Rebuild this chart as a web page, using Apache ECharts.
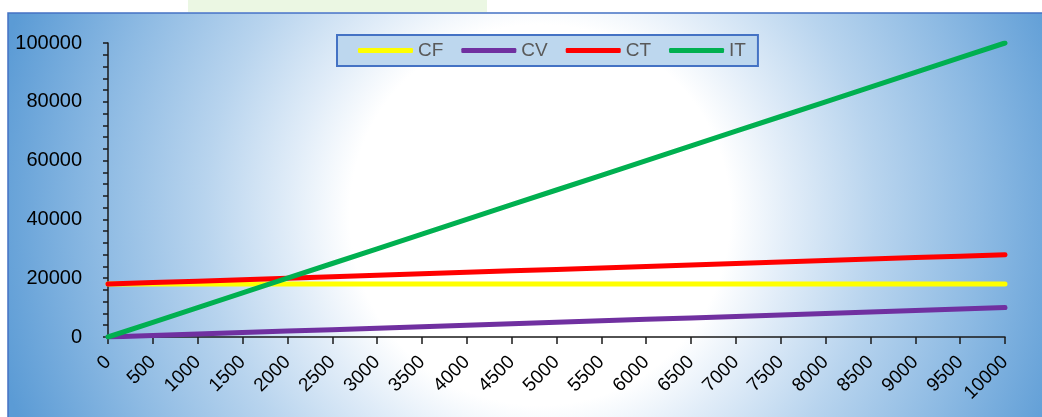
<!DOCTYPE html>
<html>
<head>
<meta charset="utf-8">
<script src="https://cdn.jsdelivr.net/npm/echarts@6/dist/echarts.min.js"></script>
<style>
html,body{margin:0;padding:0;background:#fff;}
#chart{width:1042px;height:417px;}
</style>
</head>
<body>
<div id="chart"></div>
<script>
var categories = ['0','500','1000','1500','2000','2500','3000','3500','4000','4500','5000','5500','6000','6500','7000','7500','8000','8500','9000','9500','10000'];
var cfValues = [18000,18000,18000,18000,18000,18000,18000,18000,18000,18000,18000,18000,18000,18000,18000,18000,18000,18000,18000,18000,18000];
var cvValues = [0,500,1000,1500,2000,2500,3000,3500,4000,4500,5000,5500,6000,6500,7000,7500,8000,8500,9000,9500,10000];
var ctValues = [18000,18500,19000,19500,20000,20500,21000,21500,22000,22500,23000,23500,24000,24500,25000,25500,26000,26500,27000,27500,28000];
var itValues = [0,5000,10000,15000,20000,25000,30000,35000,40000,45000,50000,55000,60000,65000,70000,75000,80000,85000,90000,95000,100000];
var seriesNames = ['CF','CV','CT','IT'];
var seriesColors = ['#ffff00','#7030a0','#ff0000','#00b050'];
var yTicks = {min:0, max:100000, interval:20000};

var chart = echarts.init(document.getElementById('chart'));
var font = '"Liberation Sans", Arial, sans-serif';
var allValues = [cfValues, cvValues, ctValues, itValues];

var option = {
  backgroundColor: '#ffffff',
  animation: false,
  graphic: [
    {type:'rect', z:-10, silent:true, shape:{x:188,y:0,width:299,height:12}, style:{fill:'#ebf7e3'}},
    {type:'rect', z:-10, silent:true, shape:{x:8,y:13,width:1040,height:410},
     style:{
       fill: new echarts.graphic.RadialGradient(540,215,560,[
         {offset:0,color:'#ffffff'},
         {offset:0.34,color:'#ffffff'},
         {offset:0.45,color:'#e0ecf8'},
         {offset:0.6,color:'#b8d4ee'},
         {offset:0.79,color:'#8dbae3'},
         {offset:1,color:'#5b9bd5'}
       ], true),
       stroke:'#4472c4', lineWidth:1.5
     }}
  ],
  legend: {
    data: seriesNames,
    left: 337, top: 35,
    icon: 'roundRect',
    itemWidth: 55, itemHeight: 5, itemGap: 18,
    backgroundColor: '#bdd7ee',
    borderColor: '#4472c4', borderWidth: 2, borderRadius: 0,
    padding: [6,12,6,21],
    textStyle: {color:'#595959', fontSize:19, fontFamily: font}
  },
  grid: {left:108, right:37, top:43, bottom:80, containLabel:false},
  xAxis: {
    type:'category', data: categories, boundaryGap:false,
    axisLine:{show:true, lineStyle:{color:'#1a1a1a', width:1.5}},
    axisTick:{show:true, length:7, inside:false, lineStyle:{color:'#1a1a1a', width:1.5}},
    axisLabel:{rotate:45, fontSize:19, color:'#000', fontFamily:font, margin:22, interval:0},
    splitLine:{show:false}
  },
  yAxis: {
    type:'value', min:yTicks.min, max:yTicks.max, interval:yTicks.interval,
    axisLine:{show:true, lineStyle:{color:'#1a1a1a', width:1.5}},
    axisTick:{show:true, length:5, lineStyle:{color:'#1a1a1a', width:1.5}},
    minorTick:{show:true, splitNumber:5, length:5, lineStyle:{color:'#1a1a1a', width:1.5}},
    axisLabel:{fontSize:20, color:'#000', fontFamily:font, margin:26, formatter:function(v){return String(v);}},
    splitLine:{show:false}
  },
  series: seriesNames.map(function(n,i){
    return {
      name:n, type:'line', data: allValues[i],
      showSymbol:false, symbol:'none',
      lineStyle:{color:seriesColors[i], width:5, cap:'round'},
      itemStyle:{color:seriesColors[i]}
    };
  })
};
chart.setOption(option);
</script>
</body>
</html>
